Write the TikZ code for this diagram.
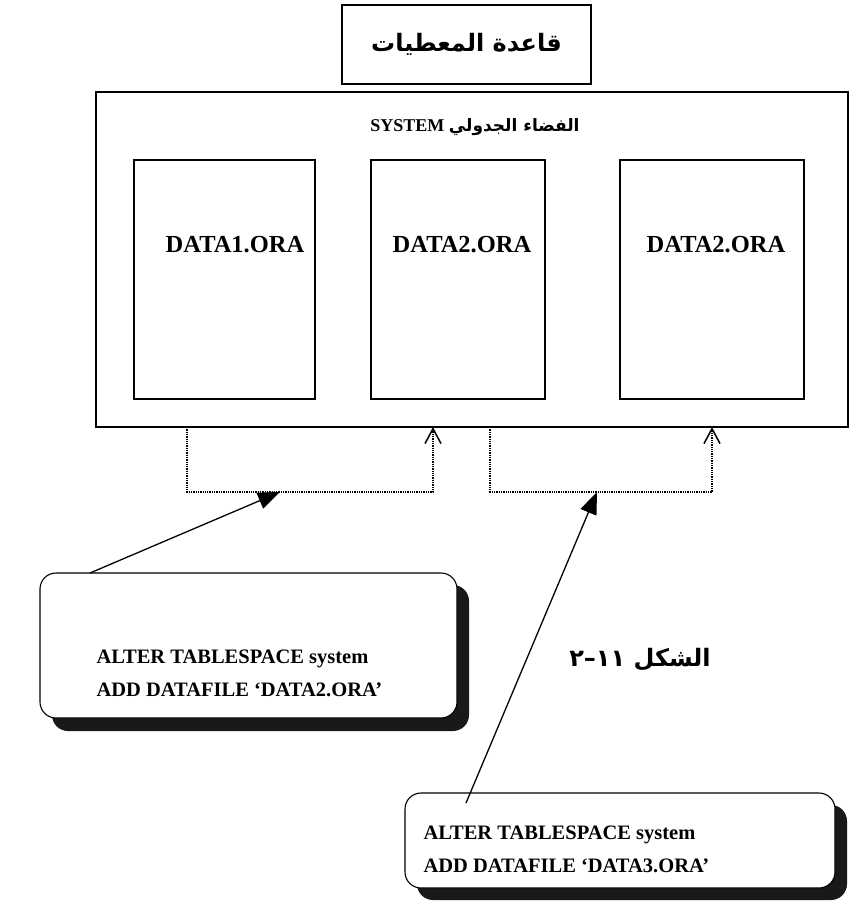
\documentclass[tikz,border=0pt]{standalone}
\usepackage{fontspec}
\setmainfont{Liberation Serif}
\newfontfamily\arabicfont[Script=Arabic]{DejaVu Sans}
\TeXXeTstate=1
\usepackage{tikz}
\usetikzlibrary{arrows.meta,backgrounds}
\tikzstyle{box} = [draw, line width=1.1pt, inner sep=0pt]
\tikzstyle{cmd} = [draw, line width=1.1pt, inner sep=0pt, rounded corners=16pt, fill=white]
\tikzstyle{shade} = [fill=black!90, rounded corners=16pt]
\tikzstyle{dots} = [line width=1.4pt, dash pattern=on 1.3pt off 1pt, -{Straight Barb[length=15pt,width=16pt,line width=1.5pt]}]
\tikzstyle{es} = [line width=1.3pt, -{Triangle[length=22pt,width=17pt]}]
\tikzstyle{lat} = [font=\bfseries\fontsize{24.5}{28}\selectfont]
\tikzstyle{cmdtxt} = [font=\bfseries\fontsize{20.5}{33}\selectfont, anchor=west, align=left]
\tikzstyle{ar} = [font=\arabicfont\bfseries\fontsize{24}{28}\selectfont]

\begin{document}
\begin{tikzpicture}[yscale=-1]
			\useasboundingbox (0pt,0pt) rectangle (850pt,907pt);
			% database and its tablespace
			\node[box, minimum width=249pt, minimum height=79pt, ar] (db) at (466.5pt,44.5pt) {\beginR قاعدة المعطيات\endR};
			\node[box, minimum width=752pt, minimum height=335pt] (tbs) at (472pt,259.5pt) {};
			\node[font=\bfseries\fontsize{18}{22}\selectfont] (tbslabel) at (475pt,127pt) {SYSTEM\ {\arabicfont\fontsize{17}{22}\selectfont\beginR الفضاء الجدولي\endR}};
			\node[box, minimum width=181pt, minimum height=239pt] (f1) at (224.5pt,279.5pt) {};
			\node[box, minimum width=174pt, minimum height=239pt] (f2) at (458pt,279.5pt) {};
			\node[box, minimum width=184pt, minimum height=239pt] (f3) at (712pt,279.5pt) {};
			\node[lat] (n1) at (235pt,245pt) {DATA1.ORA};
			\node[lat] (n2) at (462pt,245pt) {DATA2.ORA};
			\node[lat] (n3) at (716pt,245pt) {DATA2.ORA};
			% dotted links under the tablespace
			\coordinate (s1) at (187pt,427pt);
			\coordinate (e1) at (433pt,427pt);
			\coordinate (s2) at (490pt,427pt);
			\coordinate (e2) at (712pt,427pt);
			\draw[dots] (s1) -- ++(0pt,65pt) -| (e1);
			\draw[dots] (s2) -- ++(0pt,65pt) -| (e2);
			\coordinate (h1) at (280pt,492pt);
			\coordinate (h2) at (597pt,492pt);
			% commands
			\node[cmd, minimum width=417pt, minimum height=145pt] (cmdA) at (248.5pt,645.5pt) {};
			\node[cmdtxt] (txtA) at (93pt,673pt) {ALTER TABLESPACE system\\ADD DATAFILE ‘DATA2.ORA’};
			\node[cmd, minimum width=430pt, minimum height=95pt] (cmdB) at (620pt,840.5pt) {};
			\node[cmdtxt] (txtB) at (420pt,849pt) {ALTER TABLESPACE system\\ADD DATAFILE ‘DATA3.ORA’};
			\begin{pgfonlayer}{background}
				\fill[shade] (52pt,585pt) rectangle (469pt,731pt);
				\fill[shade] (417pt,805pt) rectangle (847pt,900pt);
			\end{pgfonlayer}
			\coordinate (a1) at (90pt,573pt);
			\coordinate (a2) at (466pt,803pt);
			\draw[es] (a1) -- (h1);
			\draw[es] (a2) -- (h2);
			\node[ar] (fig) at (640pt,660pt) {\beginR\mbox{الشكل}\ \mbox{١١}\mbox{–}\mbox{٢}\endR};
		\end{tikzpicture}
\end{document}
